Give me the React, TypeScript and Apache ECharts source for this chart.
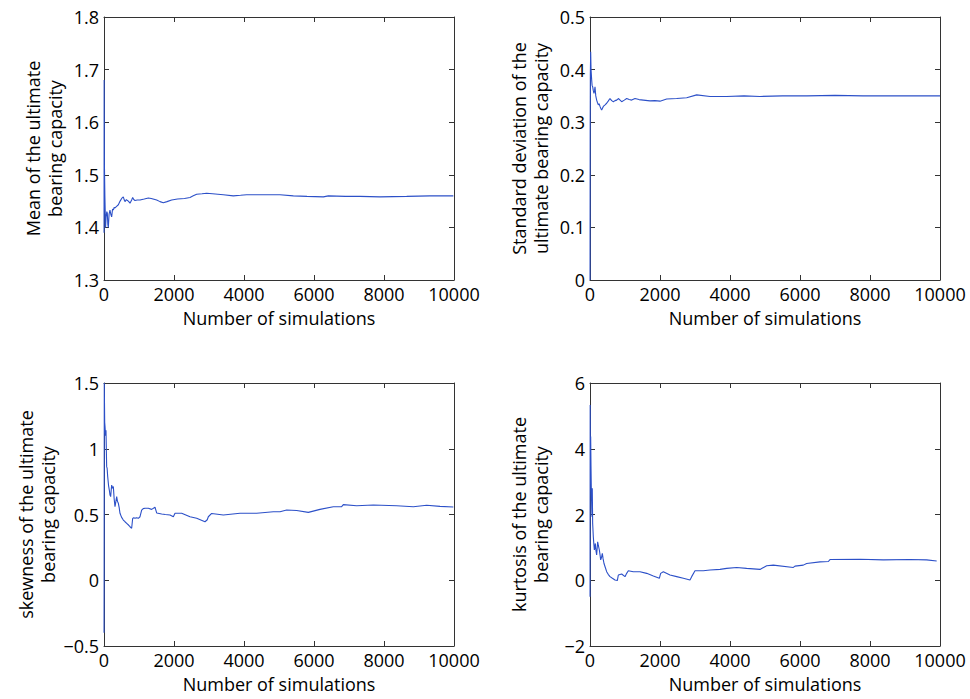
import React, { useEffect, useRef } from "react";
import * as echarts from "echarts";

const xTicks = { min: 0, max: 10000, interval: 2000 };

const meanData: [number, number][] = [
  [1, 1.39], [4, 1.68], [12, 1.52], [25, 1.46], [45, 1.40], [60, 1.42], [80, 1.43], [95, 1.427], [110, 1.405], [124, 1.40],
  [145, 1.425], [171, 1.433], [195, 1.425], [219, 1.42], [245, 1.435], [267, 1.433], [290, 1.438], [314, 1.437], [360, 1.44],
  [410, 1.443], [460, 1.45], [505, 1.455], [552, 1.458], [580, 1.452], [600, 1.449], [640, 1.453], [670, 1.451], [695, 1.45],
  [720, 1.448], [743, 1.446], [790, 1.452], [819, 1.457], [850, 1.453], [886, 1.451], [950, 1.452], [1029, 1.452], [1150, 1.454],
  [1267, 1.456], [1350, 1.455], [1505, 1.452], [1600, 1.449], [1695, 1.447], [1800, 1.449], [1933, 1.452], [2100, 1.454],
  [2300, 1.455], [2457, 1.457], [2550, 1.46], [2648, 1.463], [2800, 1.464], [2933, 1.465], [3100, 1.464], [3410, 1.462],
  [3695, 1.46], [3900, 1.461], [4076, 1.462], [4500, 1.462], [5029, 1.462], [5410, 1.46], [5800, 1.459], [6267, 1.458],
  [6410, 1.46], [6900, 1.459], [7314, 1.459], [7886, 1.458], [8648, 1.459], [9314, 1.46], [9981, 1.46],
];

const stdData: [number, number][] = [
  [1, 0], [5, 0.28], [10, 0.39], [19, 0.434], [30, 0.4], [48, 0.38], [60, 0.37], [76, 0.3675], [95, 0.36], [114, 0.355],
  [130, 0.36], [143, 0.3675], [165, 0.35], [190, 0.342], [215, 0.337], [238, 0.333], [260, 0.335], [286, 0.33], [310, 0.326],
  [333, 0.323], [360, 0.327], [381, 0.33], [430, 0.333], [476, 0.336], [520, 0.34], [571, 0.345], [620, 0.341], [667, 0.339],
  [715, 0.341], [762, 0.342], [810, 0.345], [860, 0.342], [905, 0.339], [980, 0.342], [1048, 0.345], [1120, 0.343],
  [1190, 0.342], [1286, 0.345], [1400, 0.343], [1524, 0.342], [1714, 0.3405], [1850, 0.341], [2000, 0.34], [2190, 0.344],
  [2476, 0.345], [2762, 0.3465], [3048, 0.352], [3429, 0.349], [3905, 0.349], [4400, 0.35], [4857, 0.349], [5500, 0.35],
  [6200, 0.35], [7000, 0.351], [7800, 0.35], [8600, 0.35], [9300, 0.35], [10000, 0.35],
];

const skewData: [number, number][] = [
  [1, -0.4], [4, 0.1], [8, 1.5], [20, 1.2], [29, 1.168], [45, 1.1], [57, 1.14], [76, 0.864], [90, 0.85], [105, 0.79],
  [130, 0.72], [152, 0.686], [170, 0.65], [190, 0.636], [219, 0.724], [240, 0.7], [267, 0.712], [290, 0.62], [314, 0.56],
  [340, 0.6], [362, 0.636], [385, 0.6], [410, 0.585], [435, 0.55], [457, 0.509], [500, 0.48], [552, 0.458], [600, 0.445],
  [648, 0.433], [700, 0.42], [743, 0.407], [790, 0.395], [819, 0.47], [850, 0.475], [886, 0.471], [930, 0.476], [981, 0.471],
  [1029, 0.483], [1076, 0.534], [1120, 0.545], [1171, 0.547], [1267, 0.547], [1362, 0.539], [1457, 0.555], [1505, 0.512],
  [1648, 0.504], [1750, 0.5], [1886, 0.496], [1981, 0.483], [2029, 0.509], [2219, 0.509], [2457, 0.483], [2648, 0.471],
  [2800, 0.455], [2886, 0.445], [2950, 0.46], [2981, 0.483], [3076, 0.508], [3410, 0.496], [3886, 0.509], [4362, 0.509],
  [4838, 0.521], [5029, 0.521], [5219, 0.534], [5505, 0.53], [5838, 0.516], [6171, 0.539], [6552, 0.559], [6790, 0.56],
  [6838, 0.575], [7219, 0.567], [7695, 0.572], [8362, 0.567], [8838, 0.559], [9219, 0.57], [9600, 0.562], [9981, 0.557],
];

const kurtData: [number, number][] = [
  [1, -0.5], [5, 5.33], [12, 3.5], [19, 4.37], [28, 3.5], [38, 2.75], [50, 2.2], [57, 1.93], [65, 2.8], [76, 1.73],
  [95, 1.32], [110, 1.1], [124, 0.92], [152, 1.12], [170, 0.9], [190, 0.77], [219, 1.17], [240, 1.05], [267, 0.92],
  [290, 0.75], [305, 0.62], [330, 0.7], [352, 0.82], [375, 0.65], [400, 0.51], [440, 0.38], [476, 0.26], [520, 0.18],
  [571, 0.11], [640, 0.06], [714, 0.01], [781, -0.01], [800, 0.1], [810, 0.16], [905, 0.19], [1000, 0.11], [1048, 0.21],
  [1095, 0.29], [1238, 0.26], [1429, 0.26], [1619, 0.21], [1810, 0.13], [1981, 0.06], [2019, 0.21], [2095, 0.26],
  [2286, 0.16], [2476, 0.11], [2667, 0.06], [2857, 0.01], [2905, 0.11], [3000, 0.29], [3238, 0.29], [3429, 0.31],
  [3714, 0.33], [3905, 0.36], [4190, 0.39], [4476, 0.36], [4857, 0.33], [5048, 0.44], [5238, 0.46], [5810, 0.39],
  [5857, 0.43], [6095, 0.46], [6190, 0.51], [6571, 0.56], [6810, 0.57], [6857, 0.63], [7714, 0.64], [8381, 0.62],
  [9143, 0.63], [9619, 0.62], [9905, 0.585],
];

const yNames = [
  "Mean of the ultimate\nbearing capacity",
  "Standard deviation of the\nultimate bearing capacity",
  "skewness of the ultimate\nbearing capacity",
  "kurtosis of the ultimate\nbearing capacity",
];
const yScales = [
  { min: 1.3, max: 1.8, interval: 0.1 },
  { min: 0, max: 0.5, interval: 0.1 },
  { min: -0.5, max: 1.5, interval: 0.5 },
  { min: -2, max: 6, interval: 2 },
];
const xName = "Number of simulations";
const seriesData = [meanData, stdData, skewData, kurtData];

const FONT = "Open Sans";
const AXIS_COLOR = "#333";
const TEXT_COLOR = "#000";
const LINE_COLOR = "#2c50c8";

export default function App() {
  const ref = useRef<HTMLDivElement>(null);
  useEffect(() => {
    if (!ref.current) return;
    const chart = echarts.init(ref.current, undefined, { renderer: "svg" });
    const gridPos = [
      { left: 104, top: 17 },
      { left: 590, top: 17 },
      { left: 104, top: 383 },
      { left: 590, top: 383 },
    ];
    const grid = gridPos.map((p) => ({ left: p.left, top: p.top, width: 350, height: 263, containLabel: false }));
    const fmt = (v: number) => String(Number(v.toFixed(3))).replace("-", "\u2212");
    const xAxis: any[] = [];
    const yAxis: any[] = [];
    const series: any[] = [];
    gridPos.forEach((_, i) => {
      const common = {
        type: "value",
        gridIndex: i,
        axisLine: { show: true, onZero: false, lineStyle: { color: AXIS_COLOR, width: 1 } },
        axisTick: { show: true, inside: true, length: 5, lineStyle: { color: AXIS_COLOR } },
        splitLine: { show: false },
      };
      xAxis.push({
        ...common,
        ...xTicks,
        position: "bottom",
        name: xName,
        nameLocation: "middle",
        nameGap: 29,
        nameTextStyle: { fontFamily: FONT, fontSize: 18, color: TEXT_COLOR },
        axisLabel: { fontFamily: FONT, fontSize: 18, color: TEXT_COLOR, margin: 5, formatter: (v: number) => String(v) },
      });
      xAxis.push({ ...common, ...xTicks, position: "top", axisLabel: { show: false } });
      yAxis.push({
        ...common,
        ...yScales[i],
        position: "left",
        name: yNames[i],
        nameLocation: "middle",
        nameGap: 38,
        nameTextStyle: { fontFamily: FONT, fontSize: 18, color: TEXT_COLOR, lineHeight: 22 },
        axisLabel: { fontFamily: FONT, fontSize: 18, color: TEXT_COLOR, margin: 5, formatter: fmt },
      });
      yAxis.push({ ...common, ...yScales[i], position: "right", axisLabel: { show: false } });
      series.push({
        type: "line",
        xAxisIndex: i * 2,
        yAxisIndex: i * 2,
        data: seriesData[i],
        showSymbol: false,
        symbol: "none",
        lineStyle: { color: LINE_COLOR, width: 1.1 },
      });
    });
    chart.setOption({ animation: false, backgroundColor: "#fff", grid, xAxis, yAxis, series });
    return () => chart.dispose();
  }, []);
  return <div ref={ref} style={{ position: "absolute", left: 0, top: 0, width: 970, height: 699 }} />;
}
